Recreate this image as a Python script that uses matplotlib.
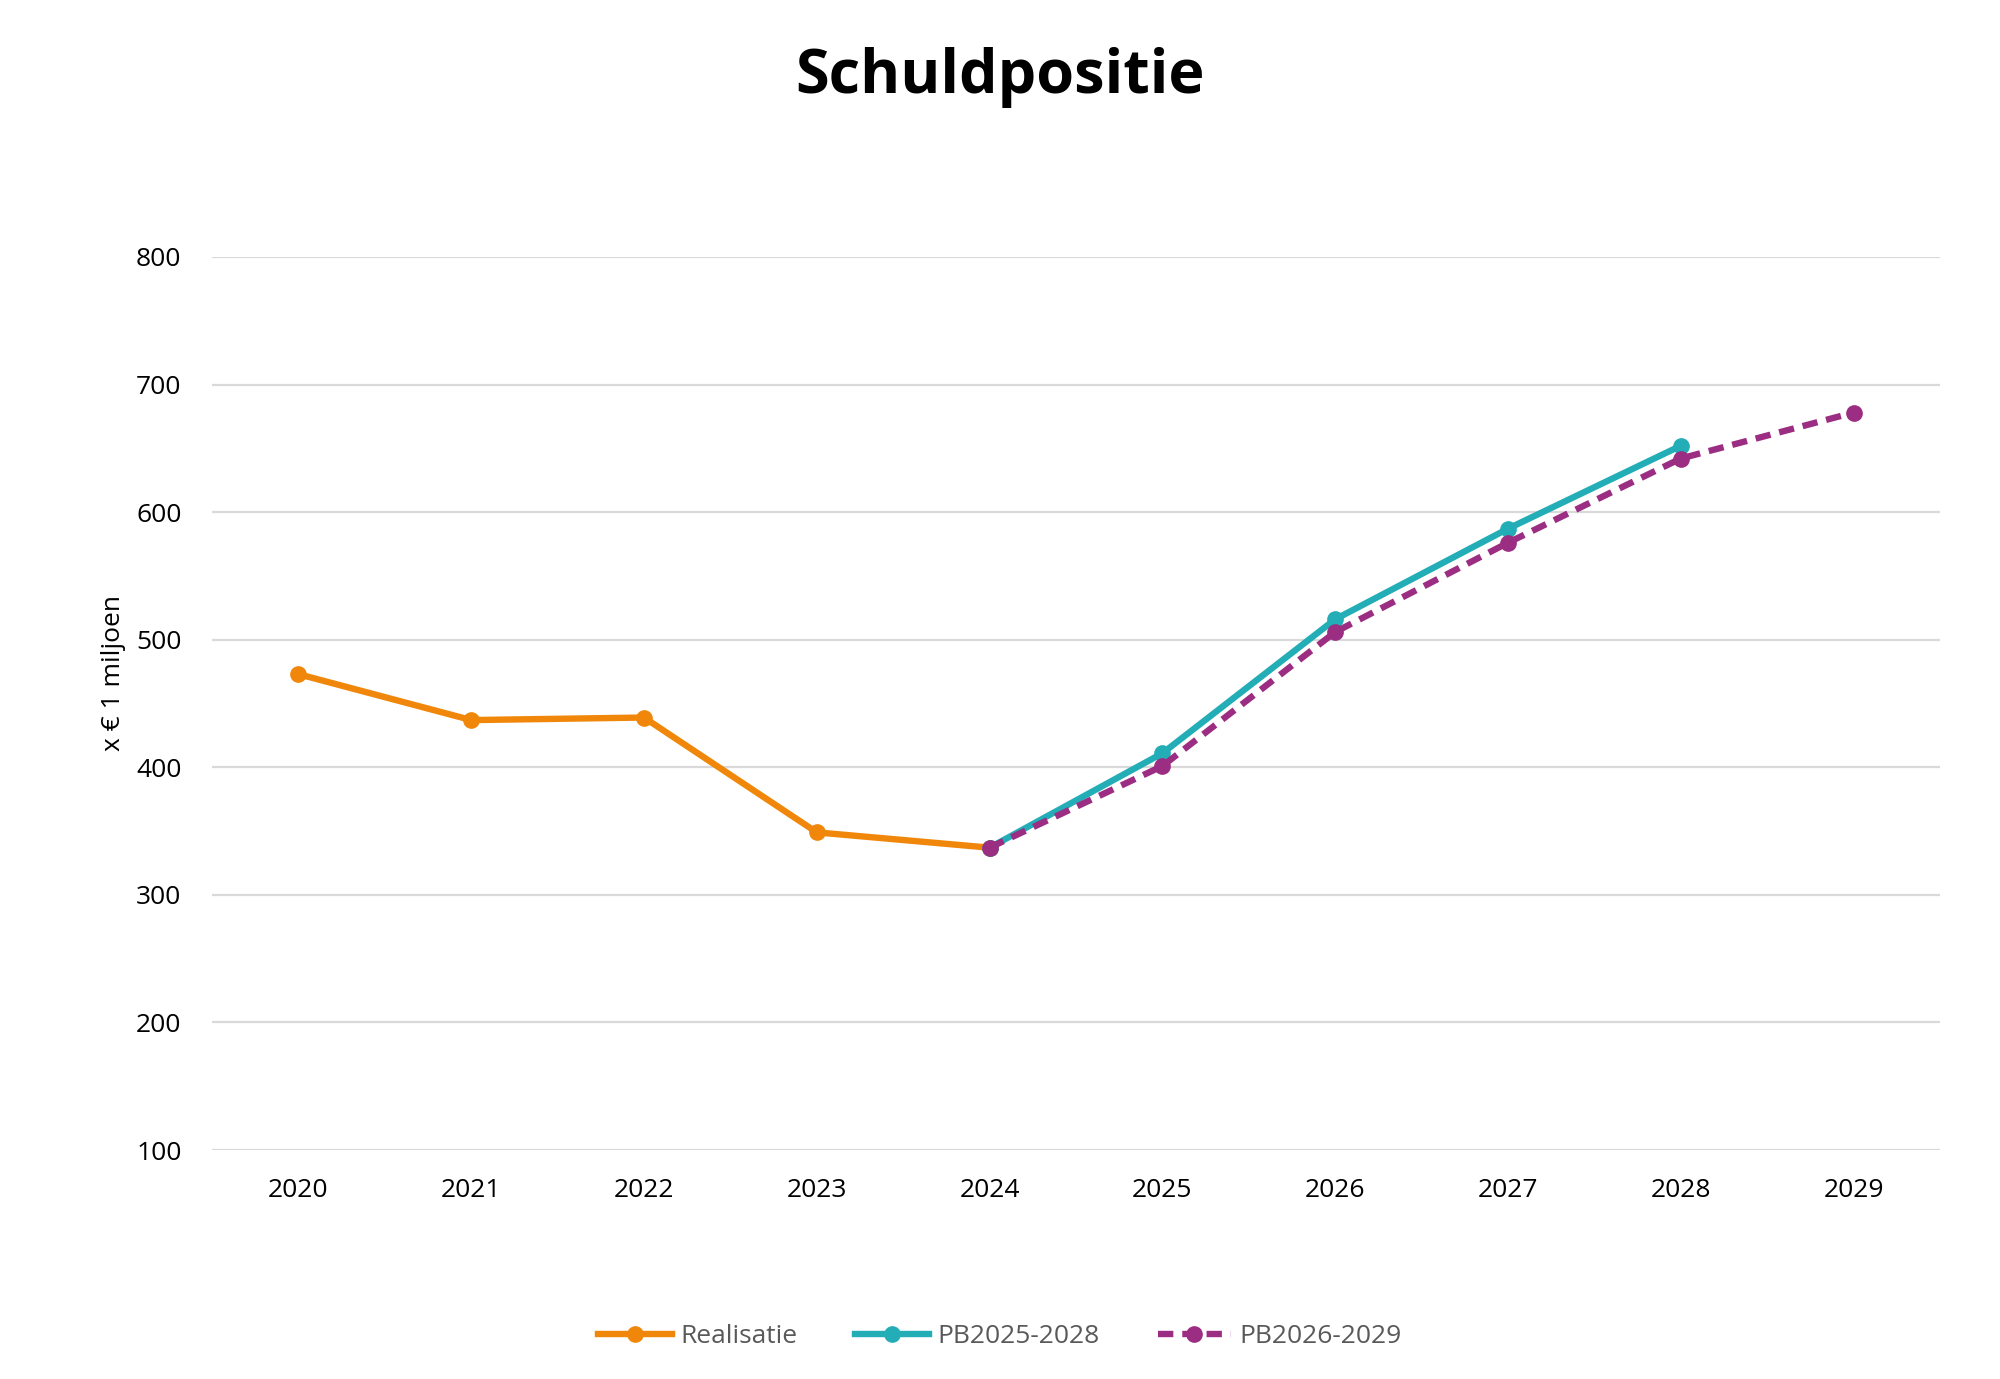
import numpy as np
import matplotlib.pyplot as plt

plt.rcParams['font.family'] = ['Open Sans', 'DejaVu Sans']

# data
jaren = ['2020', '2021', '2022', '2023', '2024', '2025', '2026', '2027', '2028', '2029']
realisatie = [473, 437, 439, 349, 337, np.nan, np.nan, np.nan, np.nan, np.nan]
pb2025 = [np.nan, np.nan, np.nan, np.nan, 337, 411, 516, 587, 652, np.nan]
pb2026 = [np.nan, np.nan, np.nan, np.nan, 337, 401, 506, 576, 642, 678]

x = np.arange(len(jaren))

fig = plt.figure(figsize=(20, 13.79), dpi=100)
ax = fig.add_axes([0.106, 0.166, 0.864, 0.6477])

ax.plot(x, realisatie, color='#F0870A', lw=4.6, marker='o', ms=11, label='Realisatie')
ax.plot(x, pb2025, color='#23ADB6', lw=4.6, marker='o', ms=11, label='PB2025-2028')
ax.plot(x, pb2026, color='#9B2D82', lw=4.6, marker='o', ms=11, ls=(0, (2.4, 1.4)),
        label='PB2026-2029')

ax.set_xlim(-0.5, 9.5)
ax.set_ylim(100, 800)
ax.set_yticks(range(100, 801, 100))
ax.set_xticks(x)
ax.set_xticklabels(jaren)
ax.grid(axis='y', color='#d9d9d9', lw=1.6)
ax.set_axisbelow(True)
for s in ax.spines.values():
    s.set_visible(False)
ax.tick_params(length=0, labelsize=19)
ax.tick_params(axis='x', pad=20)
ax.tick_params(axis='y', pad=22)
ax.set_ylabel('x € 1 miljoen', fontsize=19)
ax.yaxis.set_label_coords(-0.050, 0.534)

fig.suptitle('Schuldpositie', fontsize=44, fontweight='bold', y=0.966)

leg = fig.legend(loc='center', bbox_to_anchor=(0.5, 0.031), ncol=3, frameon=False,
                 fontsize=19, handlelength=2.8, columnspacing=2.2, handletextpad=0.3)
for t in leg.get_texts():
    t.set_color('#595959')

fig.savefig('out.png', dpi=100)
